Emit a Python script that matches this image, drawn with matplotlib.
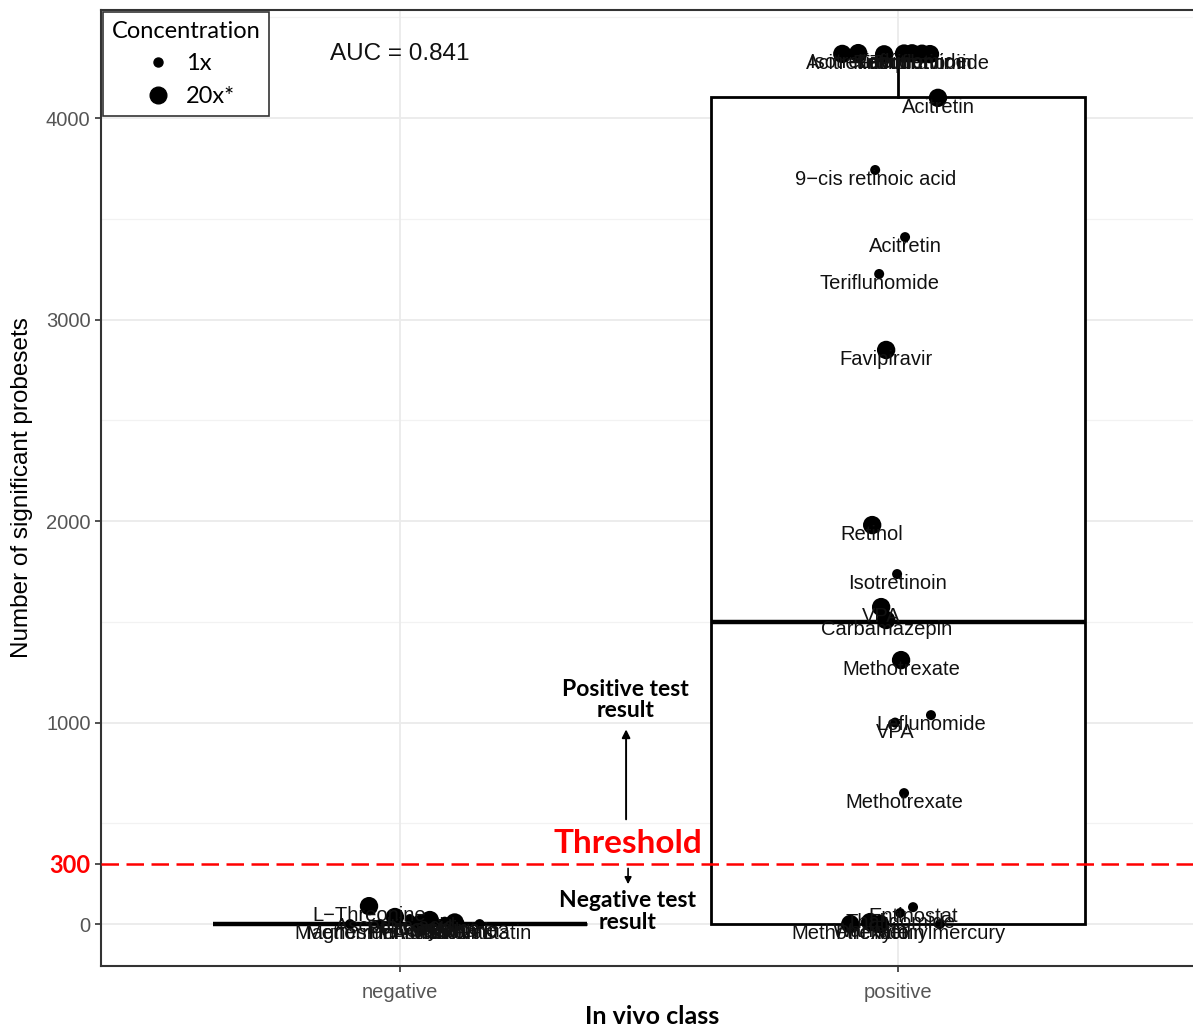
import matplotlib
matplotlib.use("Agg")
import matplotlib.pyplot as plt
from matplotlib.lines import Line2D

plt.rcParams["font.family"] = ["Liberation Sans", "DejaVu Sans"]

# class positions on the x axis
classes = ["negative", "positive"]

# positive compounds: name, probesets, concentration, jittered x
pos_names = ["Acitretin", "Isotretinoin", "Retinol", "Favipiravir", "Leflunomide",
             "Isotretinoin", "Teriflunomide", "Acitretin", "9\u2212cis retinoic acid",
             "Acitretin", "Teriflunomide", "Favipiravir", "Retinol", "Isotretinoin",
             "VPA", "Carbamazepin", "Methotrexate", "Leflunomide", "VPA", "Methotrexate",
             "Thalidomide", "Entinostat", "Methotrexate", "Warfarin", "Phenytoin",
             "Methylmercury"]
pos_vals = [4318, 4322, 4316, 4320, 4321, 4319, 4317, 4100, 3742,
            3409, 3226, 2849, 1980, 1737,
            1573, 1509, 1310, 1037, 1000, 650,
            55, 84, 0, 10, 0,
            0]
pos_conc = ["20x*", "20x*", "20x*", "20x*", "20x*", "20x*", "20x*", "20x*", "1x",
            "1x", "1x", "20x*", "20x*", "1x",
            "20x*", "20x*", "20x*", "1x", "1x", "1x",
            "1x", "1x", "20x*", "20x*", "20x*",
            "1x"]
pos_x = [1.888, 1.920, 1.972, 2.012, 2.028, 2.048, 2.064, 2.080, 1.954,
         2.014, 1.962, 1.976, 1.948, 1.998,
         1.966, 1.976, 2.006, 2.066, 1.994, 2.012,
         2.004, 2.030, 1.904, 1.944, 1.964,
         2.084]

# negative compounds
neg_names = ["L\u2212Threonine", "Ascorbic acid", "Folic acid", "Famotidine", "Doxylamine",
             "Saccharin", "Magnesium sulfate", "Metformin", "Penicillin G", "Amoxicillin",
             "Simvastatin", "Vitamin D3"]
neg_vals = [89, 35, 25, 20, 12, 8, 0, 0, 0, 0, 0, 2]
neg_conc = ["20x*", "20x*", "1x", "20x*", "1x", "20x*", "1x", "1x", "20x*", "1x", "1x", "1x"]
neg_x = [0.938, 0.990, 1.020, 1.060, 1.090, 1.110, 0.960, 0.900, 1.040, 1.080, 1.160, 1.120]

# box statistics per class
box_q1 = [0, 0]
box_med = [0, 1500]
box_q3 = [0, 4105]
box_lo = [0, 0]
box_hi = [0, 4322]

auc = 0.841
threshold = 300
sizes = {"1x": 52, "20x*": 175}

fig = plt.figure(figsize=(11.93, 10.30), dpi=100)
ax = fig.add_axes([101 / 1193, 64 / 1030, 1096 / 1193, 956 / 1030])

ax.set_xlim(0.4, 2.6)
ax.set_ylim(-208, 4536)

# grid
ax.set_yticks([0, 300, 1000, 2000, 3000, 4000])
ax.set_yticks([500, 1500, 2500, 3500, 4500], minor=True)
for y in [0, 1000, 2000, 3000, 4000]:
    ax.axhline(y, color="#ebebeb", lw=1.3, zorder=0)
for y in [500, 1500, 2500, 3500, 4500]:
    ax.axhline(y, color="#f2f2f2", lw=0.9, zorder=0)
for x in [1, 2]:
    ax.axvline(x, color="#ebebeb", lw=1.3, zorder=0)

stats = []
for i in range(2):
    stats.append(dict(q1=box_q1[i], med=box_med[i], q3=box_q3[i],
                      whislo=box_lo[i], whishi=box_hi[i], fliers=[]))
ax.bxp(stats, positions=[1, 2], widths=0.75, showcaps=False, patch_artist=True,
       boxprops=dict(facecolor="white", edgecolor="black", linewidth=2.0),
       medianprops=dict(color="black", linewidth=3.2),
       whiskerprops=dict(color="black", linewidth=2.0),
       manage_ticks=False, zorder=2)

# threshold line
ax.axhline(threshold, color="red", lw=1.8, ls=(0, (7, 3)), zorder=3)

# points and labels
for xs, vs, cs, ns in [(neg_x, neg_vals, neg_conc, neg_names),
                       (pos_x, pos_vals, pos_conc, pos_names)]:
    ax.scatter(xs, vs, s=[sizes[c] for c in cs], color="black", zorder=4, linewidths=0)
    for x, v, n in zip(xs, vs, ns):
        ax.text(x, v, n, ha="center", va="top", fontsize=14.5, color="#111111", zorder=5)

ax.text(1.0, 4318, "AUC = %.3f" % auc, ha="center", va="center", fontsize=17.5, color="#111111")

# threshold annotations
cal = ["Lato", "DejaVu Sans"]
ax.text(1.452, 1112, "Positive test\nresult", ha="center", va="center", fontsize=16.5,
        fontweight="bold", family=cal, linespacing=1.05)
ax.annotate("", xy=(1.454, 980), xytext=(1.454, 506),
            arrowprops=dict(arrowstyle="-|>", color="black", lw=1.4, mutation_scale=12))
ax.text(1.458, 400, "Threshold", ha="center", va="center", fontsize=24,
        fontweight="bold", color="red", family=cal)
ax.annotate("", xy=(1.458, 184), xytext=(1.458, 290),
            arrowprops=dict(arrowstyle="-|>", color="black", lw=1.2, mutation_scale=10))
ax.text(1.456, 62, "Negative test\nresult", ha="center", va="center", fontsize=16.5,
        fontweight="bold", family=cal, linespacing=1.05)

# axes styling
ax.set_xticks([1, 2])
ax.set_xticklabels(classes)
ax.set_yticklabels(["0", "300", "1000", "2000", "3000", "4000"])
ax.tick_params(axis="both", which="major", length=4, width=1.2, color="#333333",
               labelcolor="#555555", labelsize=14.5)
ax.tick_params(axis="x", which="major", pad=8)
ax.tick_params(axis="y", which="minor", length=0)
lbl = ax.get_yticklabels()[1]
lbl.set_color("red")
lbl.set_fontweight("bold")
lbl.set_family(cal)
lbl.set_fontsize(17)
for side in ["top", "left", "bottom"]:
    ax.spines[side].set_color("#333333")
    ax.spines[side].set_linewidth(1.5)
ax.spines["right"].set_visible(False)

fig.text(22 / 1193, 1 - 488 / 1030, "Number of significant probesets", rotation=90,
         ha="center", va="center", fontsize=17.5, color="black")
fig.text(652 / 1193, 1 - 1017 / 1030, "In vivo class", ha="center", va="center",
         fontsize=18, fontweight="bold", family=cal)

handles = [Line2D([], [], marker="o", ls="", color="black", markersize=6.5),
           Line2D([], [], marker="o", ls="", color="black", markersize=12)]
leg = ax.legend(handles, ["1x", "20x*"], title="Concentration", loc="upper left",
                bbox_to_anchor=(0, 1), borderaxespad=0.1, fancybox=False,
                edgecolor="#333333", framealpha=1, prop={"family": cal, "size": 17},
                title_fontproperties={"family": cal, "size": 17}, handletextpad=0.3,
                labelspacing=0.5, borderpad=0.35, handlelength=1.8)
leg.get_frame().set_linewidth(1.2)

fig.savefig("out.png", dpi=100)
